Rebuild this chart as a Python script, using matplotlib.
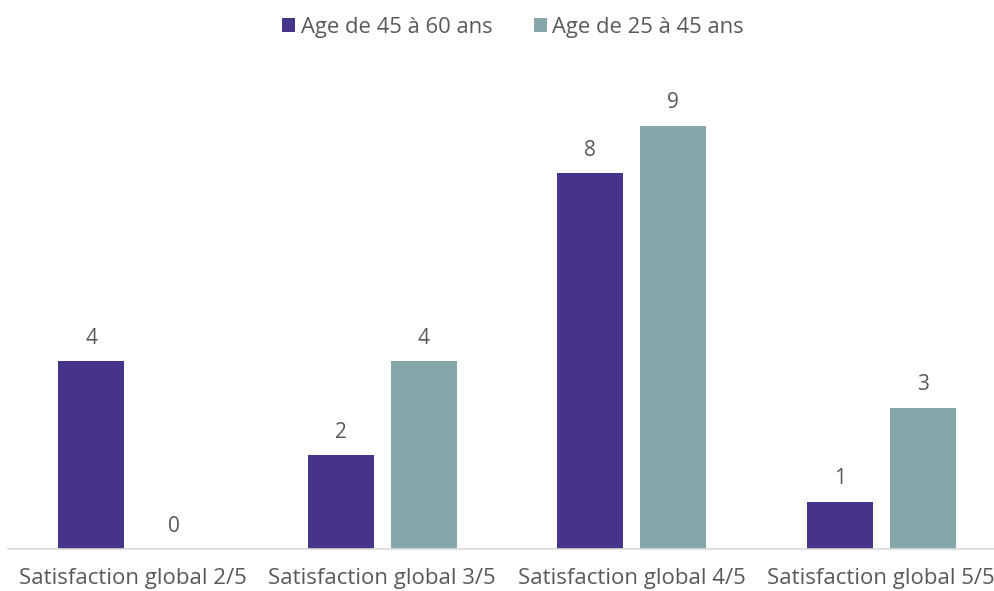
import matplotlib
matplotlib.use('Agg')
import matplotlib.pyplot as plt
import numpy as np

categories = ["Satisfaction global 2/5", "Satisfaction global 3/5",
              "Satisfaction global 4/5", "Satisfaction global 5/5"]
series_names = ["Age de 45 à 60 ans", "Age de 25 à 45 ans"]
age_45_60 = [4, 2, 8, 1]
age_25_45 = [0, 4, 9, 3]

colors = ["#46348B", "#86A7A9"]
text_color = "#595959"

plt.rcParams['font.family'] = ['Open Sans', 'DejaVu Sans']

fig = plt.figure(figsize=(9.95, 5.91), dpi=100)
ax = fig.add_axes([8 / 995, 42 / 591, 998 / 995, 470 / 591])

x = np.arange(len(categories))
width = 0.265
offset = 0.166

for vals, name, col, dx in zip([age_45_60, age_25_45], series_names, colors, [-offset, offset]):
    bars = ax.bar(x + dx, vals, width, color=col, label=name)
    for b, v in zip(bars, vals):
        ax.annotate(str(v), (b.get_x() + b.get_width() / 2, v), xytext=(0, 9),
                    textcoords='offset points', ha='center', va='bottom',
                    fontsize=15, color=text_color)

ax.set_xlim(-0.5, len(categories) - 0.5)
ax.set_ylim(0, 10)
ax.set_xticks(x)
ax.set_xticklabels(categories, fontsize=16, color=text_color)
ax.tick_params(axis='x', length=0, pad=14)
ax.set_yticks([])
for s in ['top', 'right', 'left']:
    ax.spines[s].set_visible(False)
ax.spines['bottom'].set_color('#D9D9D9')
ax.spines['bottom'].set_linewidth(1.2)

fig.legend(loc='center', bbox_to_anchor=(513 / 995, 1 - 27 / 591), ncol=2,
           frameon=False, fontsize=15.8, labelcolor=text_color,
           handlelength=0.6, handleheight=0.6, handletextpad=0.25, columnspacing=1.9)

fig.savefig('out.png', dpi=100)
